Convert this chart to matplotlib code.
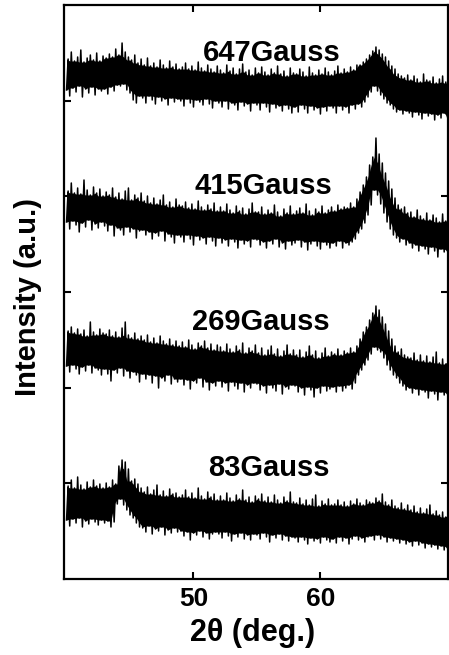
import numpy as np
import matplotlib
matplotlib.use("Agg")
import matplotlib.pyplot as plt

plt.rcParams['font.family'] = ['Liberation Sans', 'DejaVu Sans']
plt.rcParams['font.weight'] = 'bold'

# 2theta sampling (deg), one lower/upper noise envelope value per step
two_theta = 40 + 0.25 * np.arange(121)

# 647 Gauss
hi_647 = [520, 527, 518, 522, 529, 517, 521, 524, 519, 526, 518, 523,
          521, 525, 522, 530, 524, 536, 527, 522, 519, 524, 516, 520,
          514, 521, 513, 516, 512, 519, 514, 511, 518, 512, 515, 510,
          512, 516, 510, 513, 509, 517, 511, 508, 514, 510, 507, 513,
          509, 506, 514, 508, 511, 505, 510, 515, 507, 509, 504, 511,
          506, 512, 507, 504, 510, 506, 513, 505, 508, 503, 511, 506,
          505, 510, 507, 503, 512, 506, 504, 509, 505, 511, 507, 504,
          508, 513, 506, 510, 507, 512, 509, 514, 514, 517, 520, 524,
          528, 532, 529, 525, 522, 518, 513, 510, 505, 503, 501, 504,
          499, 503, 500, 497, 505, 499, 498, 502, 496, 500, 503, 497,
          496]
lo_647 = [489, 483, 491, 487, 493, 482, 490, 486, 492, 484, 490, 488,
          490, 485, 492, 488, 494, 493, 495, 489, 486, 479, 476, 483,
          481, 476, 483, 479, 475, 482, 478, 480, 474, 481, 477, 480,
          478, 473, 480, 476, 472, 479, 477, 474, 480, 475, 471, 478,
          476, 472, 478, 470, 476, 474, 469, 477, 473, 475, 468, 476,
          474, 469, 476, 472, 467, 475, 471, 473, 468, 474, 470, 466,
          472, 467, 474, 470, 466, 473, 469, 471, 465, 472, 468, 473,
          471, 466, 473, 469, 472, 466, 474, 470, 475, 472, 477, 482,
          487, 493, 488, 484, 480, 476, 474, 470, 467, 469, 465, 468,
          466, 462, 467, 464, 460, 466, 463, 465, 459, 464, 461, 466,
          462]

# 415 Gauss
hi_415 = [388, 396, 386, 391, 385, 399, 389, 384, 392, 386, 390, 383,
          387, 384, 391, 382, 386, 380, 388, 391, 379, 384, 381, 386,
          378, 383, 376, 381, 375, 379, 384, 374, 377, 372, 380, 374,
          373, 377, 371, 375, 370, 378, 372, 369, 374, 370, 376, 368,
          372, 368, 375, 369, 366, 373, 368, 371, 365, 370, 376, 367,
          367, 372, 365, 369, 366, 374, 367, 363, 370, 366, 373, 365,
          368, 371, 366, 375, 368, 364, 370, 367, 373, 366, 369, 372,
          368, 374, 370, 372, 371, 376, 372, 380, 387, 394, 402, 414,
          422, 441, 425, 416, 406, 398, 390, 381, 374, 370, 372, 366,
          367, 362, 369, 363, 360, 366, 359, 364, 361, 357, 365, 358,
          358]
lo_415 = [357, 350, 358, 354, 347, 356, 352, 359, 349, 355, 351, 357,
          353, 348, 354, 343, 351, 349, 344, 352, 347, 350, 341, 348,
          349, 344, 347, 340, 346, 343, 348, 338, 345, 342, 336, 344,
          342, 337, 344, 340, 334, 343, 339, 341, 335, 342, 338, 333,
          341, 336, 339, 333, 340, 337, 331, 339, 335, 338, 332, 340,
          339, 334, 337, 331, 338, 335, 340, 332, 336, 330, 338, 334,
          336, 339, 332, 337, 329, 335, 338, 333, 330, 337, 334, 331,
          336, 333, 338, 331, 336, 334, 337, 340, 346, 350, 356, 364,
          374, 389, 384, 375, 366, 357, 350, 344, 341, 337, 340, 334,
          336, 331, 334, 328, 333, 330, 325, 332, 328, 322, 330, 327,
          328]

# 269 Gauss
hi_269 = [248, 252, 246, 250, 245, 249, 243, 257, 247, 244, 250, 246,
          245, 249, 243, 247, 242, 251, 257, 244, 241, 246, 240, 243,
          239, 244, 237, 241, 236, 243, 238, 235, 240, 234, 238, 233,
          237, 232, 239, 234, 230, 236, 233, 238, 231, 235, 229, 234,
          232, 228, 235, 230, 227, 233, 229, 236, 226, 231, 228, 234,
          226, 231, 224, 229, 233, 225, 230, 223, 228, 234, 225, 229,
          224, 229, 222, 227, 233, 224, 228, 221, 226, 231, 223, 227,
          225, 230, 224, 228, 226, 231, 227, 233, 240, 247, 252, 259,
          266, 273, 269, 262, 255, 248, 240, 233, 227, 230, 224, 222,
          221, 226, 219, 224, 218, 223, 217, 222, 227, 216, 220, 215,
          217]
lo_269 = [213, 207, 214, 210, 205, 212, 208, 214, 206, 211, 209, 204,
          210, 205, 198, 209, 206, 211, 203, 208, 201, 207, 204, 197,
          205, 200, 204, 196, 203, 191, 201, 198, 204, 195, 200, 197,
          200, 194, 199, 190, 198, 196, 201, 192, 197, 189, 196, 193,
          198, 192, 196, 188, 197, 193, 190, 196, 187, 194, 191, 196,
          195, 189, 193, 186, 194, 191, 188, 195, 185, 192, 190, 194,
          193, 187, 191, 184, 192, 189, 182, 191, 186, 193, 188, 190,
          192, 187, 193, 188, 191, 194, 190, 196, 204, 209, 214, 219,
          225, 232, 229, 227, 221, 214, 209, 204, 201, 196, 193, 189,
          191, 186, 190, 184, 189, 187, 181, 188, 185, 179, 187, 184,
          185]

# 83 Gauss
hi_83 = [93, 99, 91, 102, 94, 90, 97, 92, 99, 93, 95, 91,
         96, 92, 99, 95, 113, 119, 117, 110, 98, 100, 95, 91,
         87, 92, 85, 89, 94, 84, 88, 83, 90, 85, 86, 82,
         84, 89, 82, 86, 81, 91, 83, 80, 87, 82, 85, 79,
         83, 79, 86, 81, 78, 84, 80, 89, 79, 82, 77, 83,
         80, 85, 78, 82, 77, 84, 79, 76, 82, 78, 87, 77,
         76, 81, 75, 79, 74, 80, 84, 73, 78, 75, 80, 74,
         75, 79, 74, 77, 73, 78, 75, 80, 76, 74, 79, 77,
         76, 81, 78, 85, 77, 74, 79, 73, 71, 76, 70, 74,
         69, 73, 67, 71, 66, 70, 74, 65, 68, 64, 67, 62,
         63]
lo_83 = [59, 53, 60, 56, 61, 52, 58, 55, 60, 57, 54, 59,
         56, 58, 52, 57, 75, 80, 74, 69, 64, 61, 56, 52,
         51, 47, 53, 45, 50, 48, 52, 44, 49, 46, 51, 47,
         48, 43, 47, 39, 46, 44, 48, 42, 46, 40, 45, 47,
         45, 41, 47, 43, 38, 45, 42, 46, 40, 44, 39, 45,
         44, 40, 46, 42, 37, 44, 41, 45, 39, 43, 38, 42,
         41, 37, 42, 39, 35, 41, 38, 40, 36, 42, 39, 37,
         40, 36, 42, 38, 41, 35, 40, 43, 39, 41, 37, 42,
         43, 39, 44, 40, 42, 37, 41, 38, 40, 36, 39, 35,
         37, 33, 38, 34, 36, 31, 35, 32, 34, 30, 33, 29,
         31]

traces = [(lo_647, hi_647), (lo_415, hi_415), (lo_269, hi_269), (lo_83, hi_83)]
labels = ['647Gauss', '415Gauss', '269Gauss', '83Gauss']
label_x = [56.2, 55.5, 55.3, 55.9]
label_y = [526, 393, 257, 111]

fig = plt.figure(figsize=(4.49, 6.55), dpi=100)
ax = fig.add_axes([64/449, 76/655, 384/449, 574/655])

for lo, hi in traces:
    lo = np.array(lo, float)
    hi = np.array(hi, float)
    # solid core of the noisy band: tightest envelope of neighbouring points
    core_hi = np.minimum(hi, np.minimum(np.roll(hi, 1), np.roll(hi, -1)))
    core_lo = np.maximum(lo, np.maximum(np.roll(lo, 1), np.roll(lo, -1)))
    core_hi[[0, -1]] = hi[[0, -1]]
    core_lo[[0, -1]] = lo[[0, -1]]
    ax.fill_between(two_theta, core_lo, core_hi, color='black', lw=0)
    xz = np.column_stack([two_theta, two_theta + 0.125]).ravel()
    yz = np.column_stack([lo, hi]).ravel()
    ax.plot(xz, yz, color='black', lw=1.1)

for lab, lx, ly in zip(labels, label_x, label_y):
    ax.text(lx, ly, lab, ha='center', va='center', fontsize=21, fontweight='bold')

ax.set_xlim(39.8, 70.05)
ax.set_ylim(0, 574)
ax.set_xticks([50, 60])
ax.set_yticks([96, 191, 287, 383, 478])
ax.tick_params(axis='x', direction='in', top=True, length=5, width=1.5,
               labelsize=19, pad=6)
ax.tick_params(axis='y', direction='in', right=True, length=5, width=1.5,
               labelleft=False)
for lbl in ax.get_xticklabels():
    lbl.set_fontweight('bold')
for sp in ax.spines.values():
    sp.set_linewidth(1.6)

ax.set_xlabel('2θ (deg.)', fontsize=22, fontweight='bold')
ax.xaxis.set_label_coords(0.492, -0.068)
ax.set_ylabel('Intensity (a.u.)', fontsize=21, fontweight='bold')
ax.yaxis.set_label_coords(-0.057, 0.491)

fig.savefig('out.png', dpi=100)
